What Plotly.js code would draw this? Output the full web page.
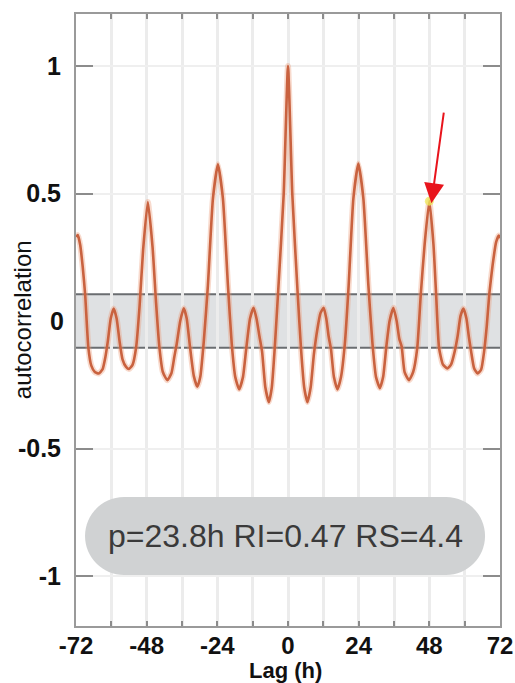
<!DOCTYPE html>
<html>
<head>
<meta charset="utf-8">
<script src="https://cdn.plot.ly/plotly-3.0.1.min.js"></script>
<style>html,body{margin:0;padding:0;background:#fff;}#chart{width:515px;height:683px;}</style>
</head>
<body>
<div id="chart"></div>
<script>
// Lag (hours) and autocorrelation values
const lagHours = [
  -72, -71.4, -70.6, -69.7, -68.9, -67.8, -66.8, -65.6, -64.3, -63.0, -62.0, -61.2, -60.2, -59.2, -58.2, -57.2, -56.2, -55.0, -54.0, -52.8, -51.6, -50.4, -49.2, -47.6, -46.0, -44.8, -43.7, -42.5, -41.0, -39.6, -38.6, -37.8, -36.6, -35.4, -34.4, -33.3, -32.0, -30.8, -29.8, -28.6, -27.2, -25.5, -23.8, -22.1, -20.4, -19.1, -17.9, -16.6, -15.3, -14.2, -12.9, -11.7, -10.7, -9.7, -8.8, -7.7, -6.5, -5.5, -4.5, -3.4, -1.45, 0,
  1.45, 3.3, 4.4, 5.5, 6.6, 7.7, 8.8, 10.0, 11.0, 12.1, 13.0, 13.8, 14.6, 15.6, 16.8, 18.0, 19.3, 20.6, 22.2, 23.9, 25.6, 27.3, 28.7, 29.9, 31.2, 32.3, 33.4, 34.5, 35.8, 36.9, 37.8, 38.6, 39.6, 41.1, 42.5, 43.9, 45.1, 46.4, 48.0, 49.4, 50.3, 51.3, 52.6, 54.1, 55.4, 56.6, 57.6, 58.6, 59.6, 60.6, 61.4, 62.2, 63.2, 64.4, 65.6, 66.6, 67.5, 68.4, 69.5, 70.7, 71.6, 72
];
const autocorr = [
  0.33, 0.337, 0.30, 0.21, 0.105, -0.105, -0.175, -0.2, -0.206, -0.19, -0.14, -0.08, 0.01, 0.049, 0.01, -0.08, -0.15, -0.18, -0.188, -0.172, -0.105, 0.06, 0.28, 0.467, 0.29, 0.07, -0.1, -0.2, -0.232, -0.205, -0.14, -0.09, 0.0, 0.05, 0.01, -0.1, -0.215, -0.258, -0.22, -0.08, 0.14, 0.48, 0.615, 0.48, 0.14, -0.09, -0.22, -0.268, -0.22, -0.11, 0.01, 0.052, 0.01, -0.06, -0.12, -0.26, -0.318, -0.26, -0.105, 0.105, 0.5, 1.0,
  0.5, 0.105, -0.105, -0.26, -0.318, -0.26, -0.13, -0.03, 0.03, 0.052, 0.01, -0.06, -0.11, -0.22, -0.268, -0.22, -0.09, 0.14, 0.48, 0.618, 0.48, 0.14, -0.09, -0.22, -0.263, -0.22, -0.1, 0.0, 0.052, 0.0, -0.07, -0.1, -0.2, -0.232, -0.2, -0.105, 0.105, 0.3, 0.47, 0.3, 0.105, -0.105, -0.17, -0.186, -0.17, -0.12, -0.06, 0.02, 0.049, 0.01, -0.06, -0.12, -0.185, -0.206, -0.19, -0.12, -0.02, 0.11, 0.22, 0.31, 0.335, 0.325
];
// Highlighted rhythmicity peak (RI)
const riLag = [48.0];
const riVal = [0.47];
// Significance band
const bandLimits = [-0.105, 0.105];
// Axis ticks
const xTickVals = [-72, -60, -48, -36, -24, -12, 0, 12, 24, 36, 48, 60, 72];
const xTickText = ['-72', '', '-48', '', '-24', '', '0', '', '24', '', '48', '', '72'];
const yTickVals = [-1, -0.5, 0.5, 1];
const yTickText = ['-1', '-0.5', '0.5', '1'];
const yZeroLabel = '0';
const statsText = 'p=23.8h RI=0.47 RS=4.4';

const FONT = '"Liberation Sans", Arial, Helvetica, sans-serif';

const traces = [
  {
    x: lagHours, y: autocorr, type: 'scatter', mode: 'lines',
    line: {color: 'rgba(236,150,112,0.35)', width: 6, shape: 'spline', smoothing: 0.5},
    hoverinfo: 'skip', showlegend: false
  },
  {
    x: lagHours, y: autocorr, type: 'scatter', mode: 'lines',
    line: {color: '#c9623f', width: 2.6, shape: 'spline', smoothing: 0.5},
    hoverinfo: 'skip', showlegend: false
  },
  {
    x: riLag, y: riVal, type: 'scatter', mode: 'markers',
    marker: {color: 'rgba(238,232,90,0.75)', size: 9},
    hoverinfo: 'skip', showlegend: false
  }
];

const pill = 'M-161,-39 L161,-39 C182.5,-39 200,-21.5 200,0 C200,21.5 182.5,39 161,39 L-161,39 C-182.5,39 -200,21.5 -200,0 C-200,-21.5 -182.5,-39 -161,-39 Z';

const layout = {
  width: 515, height: 683,
  margin: {l: 76, r: 15, t: 14, b: 57, pad: 0},
  paper_bgcolor: '#ffffff', plot_bgcolor: '#ffffff',
  font: {family: FONT, color: '#111'},
  showlegend: false,
  xaxis: {
    range: [-72, 72], tickmode: 'array', tickvals: xTickVals, ticktext: xTickText,
    ticks: 'inside', ticklen: 5, tickwidth: 2, tickcolor: '#8c8c8c',
    showline: true, linecolor: '#9a9a9a', linewidth: 2, mirror: 'ticks',
    showgrid: true, gridcolor: '#ececec', gridwidth: 3, zeroline: false,
    tickfont: {family: FONT, size: 24, color: '#111', weight: 'bold'},
    ticklabelstandoff: -3
  },
  yaxis: {
    range: [-1.196, 1.204], tickmode: 'array', tickvals: yTickVals, ticktext: yTickText,
    ticks: 'inside', ticklen: 17, tickwidth: 2, tickcolor: '#8c8c8c',
    showgrid: true, gridcolor: '#efefef', gridwidth: 2, zeroline: false,
    showline: true, linecolor: '#9a9a9a', linewidth: 2, mirror: 'ticks',
    tickfont: {family: FONT, size: 25, color: '#111', weight: 'bold'},
    ticklabelstandoff: 8
  },
  shapes: [
    {type: 'rect', xref: 'paper', yref: 'y', x0: 0, x1: 1, y0: bandLimits[0], y1: bandLimits[1], fillcolor: '#dfe1e3', line: {width: 0}, layer: 'below'},
    {type: 'line', xref: 'paper', yref: 'y', x0: 0, x1: 1, y0: bandLimits[1], y1: bandLimits[1], line: {color: '#6a6d70', width: 2}, layer: 'below'},
    {type: 'line', xref: 'paper', yref: 'y', x0: 0, x1: 1, y0: bandLimits[0], y1: bandLimits[0], line: {color: '#6a6d70', width: 2}, layer: 'below'},
    {type: 'path', xref: 'paper', yref: 'paper', xsizemode: 'pixel', ysizemode: 'pixel', xanchor: 0.493, yanchor: 0.147, path: pill, fillcolor: '#d0d2d3', line: {width: 0}, layer: 'above'}
  ],
  annotations: [
    {xref: 'paper', yref: 'y', x: 0, y: 0, text: yZeroLabel, showarrow: false, xanchor: 'right', yanchor: 'middle', xshift: -10, font: {family: FONT, size: 25, color: '#111', weight: 'bold'}},
    {xref: 'paper', yref: 'paper', x: 0.493, y: 0.147, text: statsText, showarrow: false, xanchor: 'center', yanchor: 'middle', font: {family: FONT, size: 32, color: '#3a3a3a'}},
    {xref: 'paper', yref: 'paper', x: -0.127, y: 0.5, text: 'autocorrelation', textangle: -90, showarrow: false, xanchor: 'center', yanchor: 'middle', font: {family: FONT, size: 24, color: '#111'}},
    {xref: 'paper', yref: 'paper', x: 0.493, y: -0.0725, text: 'Lag (h)', showarrow: false, xanchor: 'center', yanchor: 'middle', font: {family: FONT, size: 22, color: '#111', weight: 'bold'}},
    {xref: 'x', yref: 'y', x: 48.7, y: 0.462, text: '', showarrow: true, arrowhead: 2, arrowsize: 2, arrowwidth: 2, arrowcolor: '#e8141c', ax: 12.6, ay: -92, standoff: 0}
  ]
};

Plotly.newPlot('chart', traces, layout, {staticPlot: true, displayModeBar: false});
</script>
</body>
</html>
